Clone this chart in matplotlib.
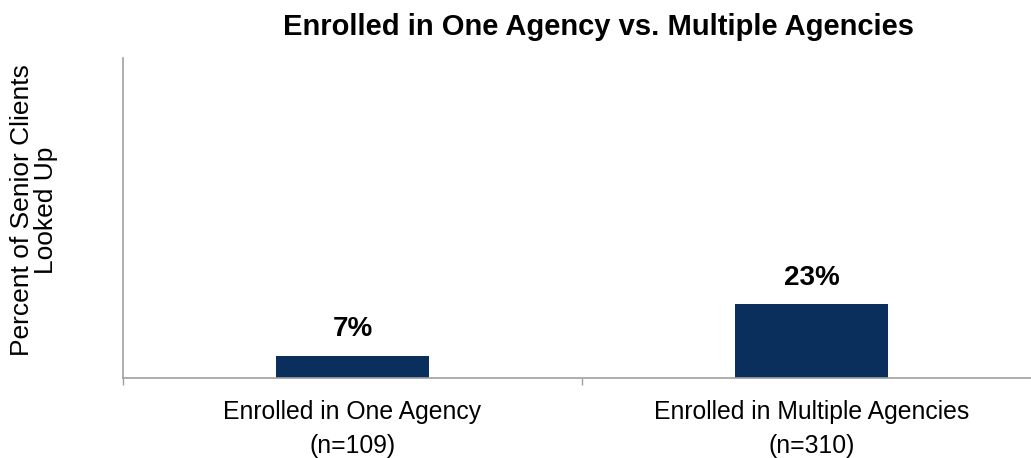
import matplotlib
matplotlib.use("Agg")
import matplotlib.pyplot as plt

categories = ["Enrolled in One Agency\n(n=109)", "Enrolled in Multiple Agencies\n(n=310)"]
values = [7, 23]
value_labels = ["7%", "23%"]

plt.rcParams['font.family'] = ['Liberation Sans', 'DejaVu Sans']

fig = plt.figure(figsize=(10.31, 4.58), dpi=100)
W, H = 1031, 458
left, right, top, bottom = 123, 1041, 58, 378
ax = fig.add_axes([left / W, 1 - bottom / H, (right - left) / W, (bottom - top) / H])

x = list(range(len(categories)))
ax.bar(x, values, width=0.335, color="#0A2F5C")
ax.set_xlim(-0.5, len(categories) - 0.5)
ax.set_ylim(0, 100)

for xi, v, lab in zip(x, values, value_labels):
    ax.annotate(lab, (xi, v), xytext=(0, 10), textcoords="offset points",
                ha="center", va="bottom", fontsize=20, fontweight="bold")

ax.set_xticks([-0.5, 0.5, 1.5], minor=False)
ax.set_xticklabels(["", "", ""])
ax.set_xticks(x, minor=True)
ax.set_xticklabels(categories, minor=True, fontsize=17.8, linespacing=1.5)
ax.tick_params(axis="x", which="major", length=5, color="#A0A0A0", width=1)
ax.tick_params(axis="x", which="minor", length=0, pad=16)
ax.set_yticks([])
for s in ["top", "right"]:
    ax.spines[s].set_visible(False)
for s in ["left", "bottom"]:
    ax.spines[s].set_color("#A0A0A0")
    ax.spines[s].set_linewidth(1.2)

fig.text(34 / W, 1 - 210 / H, "Percent of Senior Clients\nLooked Up", rotation=90,
         ha="center", va="center", fontsize=19, linespacing=1.0)
fig.text(599 / W, 1 - 27 / H, "Enrolled in One Agency vs. Multiple Agencies",
         ha="center", va="center", fontsize=21, fontweight="bold")

fig.savefig("out.png", dpi=100)
